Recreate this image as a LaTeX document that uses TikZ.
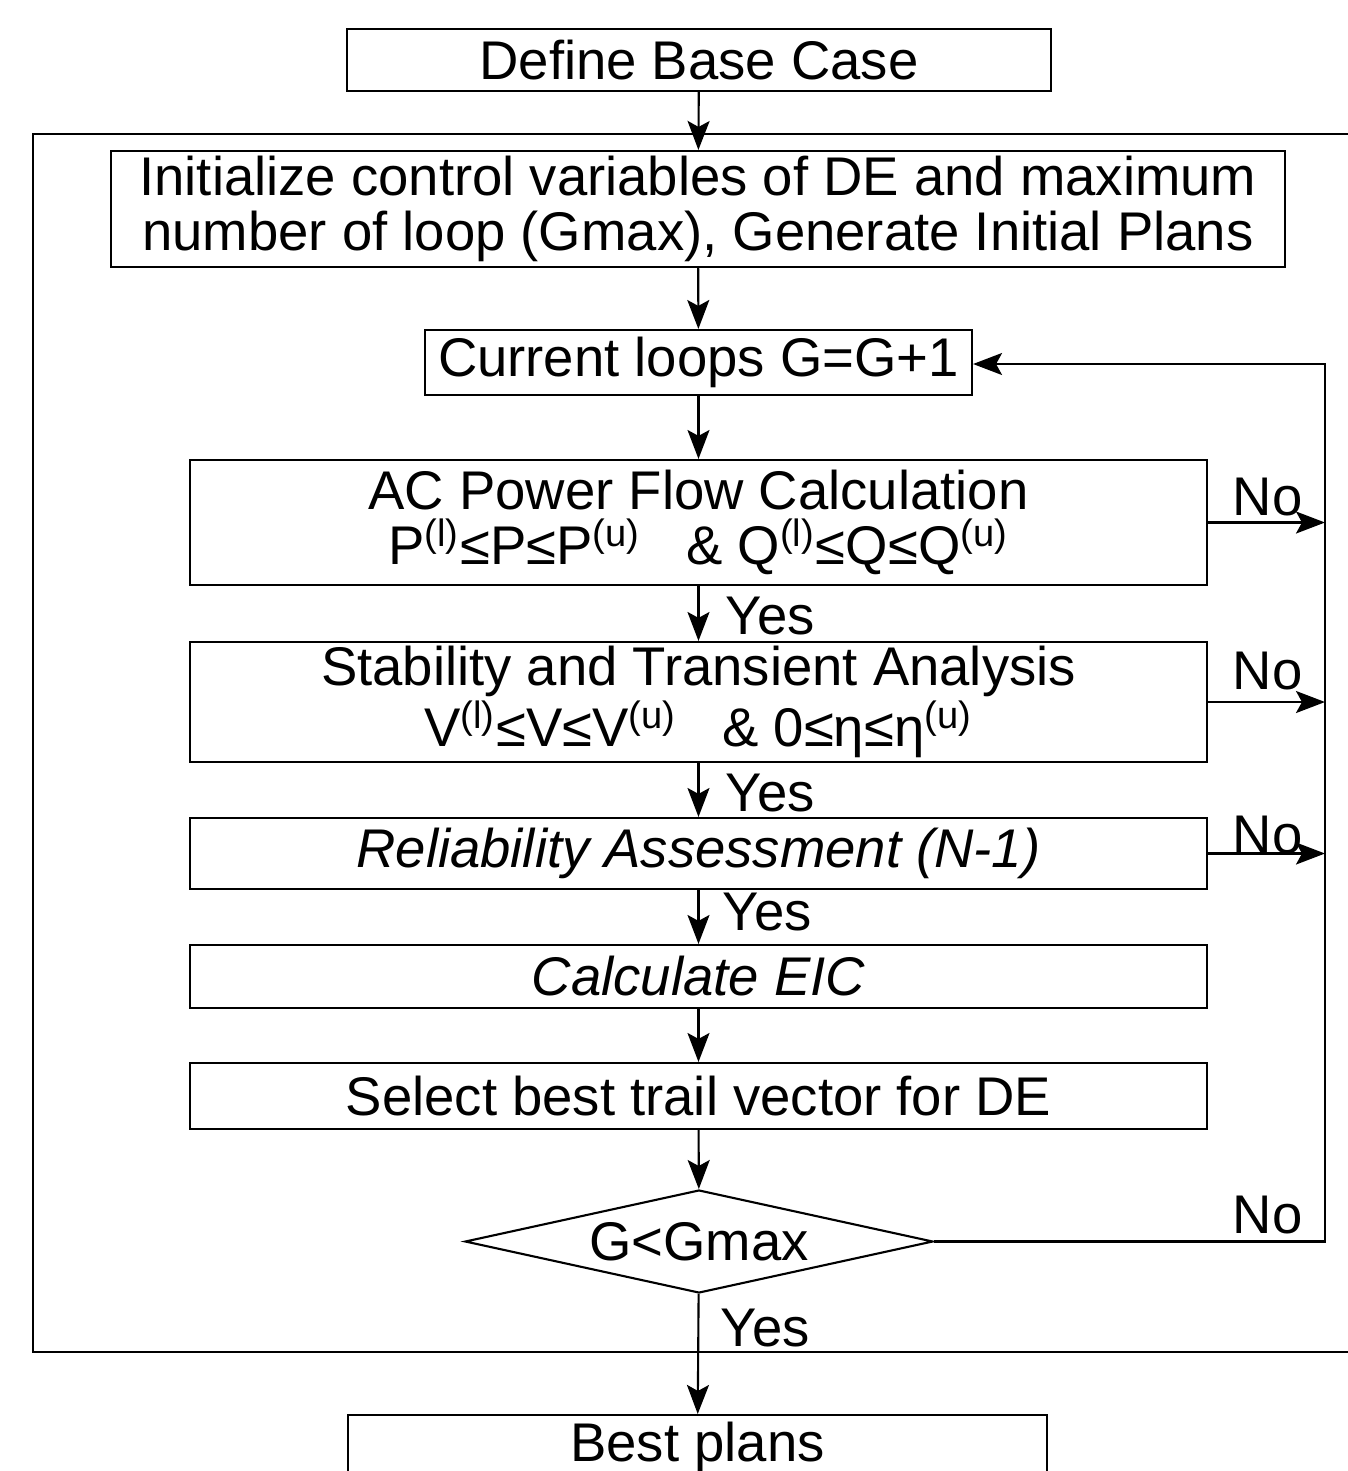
\documentclass[tikz,border=0pt]{standalone}
\usepackage{fontspec}
\setmainfont{Liberation Sans}
\usepackage{tikz}
\usetikzlibrary{arrows.meta}
\usetikzlibrary{shapes.geometric}
\usepackage{xcolor}
\definecolor{ColLine}{RGB}{0,0,0}
\definecolor{ColText}{RGB}{0,0,0}
\tikzstyle{TextFlow}=[font=\fontsize{15.5}{15.8}\selectfont,text=ColText]
\tikzstyle{BoxFlow}=[TextFlow,rectangle,draw=ColLine,line width=0.6pt,inner sep=0pt,align=center,
minimum width=10.17cm]
\tikzstyle{TestFlow}=[TextFlow,diamond,draw=ColLine,line width=0.6pt,inner sep=0pt,aspect=4.5,
minimum width=4.68cm,minimum height=1.03cm]
\tikzstyle{LabelFlow}=[TextFlow,inner sep=0pt,anchor=west]
\tikzstyle{EdgeFlow}=[ColLine,line width=0.6pt,-{Stealth[length=2.9mm,width=2.2mm,inset=0.6mm]}]

\begin{document}
\begin{tikzpicture}
        \useasboundingbox(0,0)rectangle(13.48,-14.71);
        \draw[ColLine,line width=0.6pt](0.33,-1.34)rectangle(13.9,-13.52);
        \node[BoxFlow,minimum width=7.04cm,minimum height=0.62cm](define)at(6.99,-0.60){Define Base Case};
        \node[BoxFlow,minimum width=11.74cm,minimum height=1.16cm](init)at(6.98,-2.09){Initialize control variables of DE and maximum\\number of loop (Gmax), Generate Initial Plans};
        \node[BoxFlow,minimum width=5.47cm,minimum height=0.65cm](loops)at(6.985,-3.625){Current loops G=G+1};
        \node[BoxFlow,minimum height=1.25cm](ac)at(6.985,-5.225){AC Power Flow Calculation\\P\textsuperscript{(l)}≤P≤P\textsuperscript{(u)}\ \ \ \& Q\textsuperscript{(l)}≤Q≤Q\textsuperscript{(u)}};
        \node[BoxFlow,minimum height=1.20cm](stab)at(6.985,-7.02){Stability and Transient Analysis\\V\textsuperscript{(l)}≤V≤V\textsuperscript{(u)}\ \ \ \& 0≤η≤η\textsuperscript{(u)}};
        \node[BoxFlow,minimum height=0.71cm](rel)at(6.985,-8.535){\itshape Reliability Assessment (N-1)};
        \node[BoxFlow,minimum height=0.63cm](eic)at(6.985,-9.765){\itshape Calculate EIC};
        \node[BoxFlow,minimum height=0.66cm](sel)at(6.985,-10.96){Select best trail vector for DE};
        \node[TestFlow](test)at(6.99,-12.415){G<Gmax};
        \node[BoxFlow,minimum width=6.99cm,minimum height=0.64cm](best)at(6.975,-14.47){Best plans};
        \coordinate(rail)at(13.25,-3.64);
        \draw[EdgeFlow](define)--(init);
        \draw[EdgeFlow](init)--(loops);
        \draw[EdgeFlow](loops)--(ac);
        \draw[EdgeFlow](ac)--(stab);
        \draw[EdgeFlow](stab)--(rel);
        \draw[EdgeFlow](rel)--(eic);
        \draw[EdgeFlow](eic)--(sel);
        \draw[EdgeFlow](sel)--(test);
        \draw[EdgeFlow](test)--(best);
        \draw[EdgeFlow](test.east)-|(rail)--(rail-|loops.east);
        \draw[EdgeFlow](ac.east)--(ac.east-|rail);
        \draw[EdgeFlow](stab.east)--(stab.east-|rail);
        \draw[EdgeFlow](rel.east)--(rel.east-|rail);
        \node[LabelFlow](yesA)at(7.25,-6.16){Yes};
        \node[LabelFlow](yesB)at(7.25,-7.93){Yes};
        \node[LabelFlow](yesC)at(7.22,-9.12){Yes};
        \node[LabelFlow](yesD)at(7.20,-13.28){Yes};
        \node[LabelFlow](noA)at(12.32,-4.97){No};
        \node[LabelFlow](noB)at(12.32,-6.71){No};
        \node[LabelFlow](noC)at(12.32,-8.35){No};
        \node[LabelFlow](noD)at(12.32,-12.15){No};
    \end{tikzpicture}
\end{document}
